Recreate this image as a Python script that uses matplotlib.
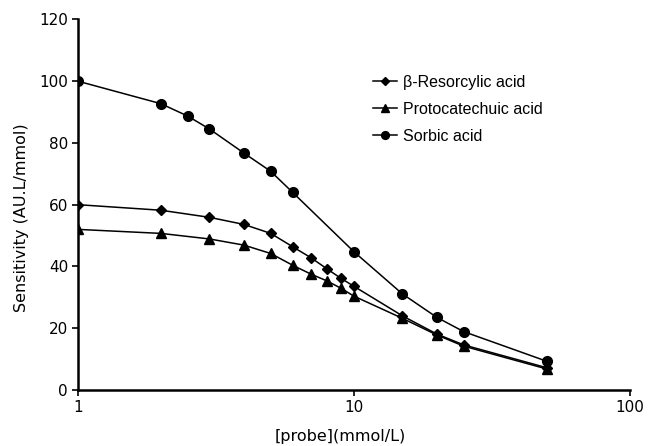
import matplotlib
matplotlib.use("Agg")
import matplotlib.pyplot as plt
from matplotlib.ticker import FixedLocator, FixedFormatter, NullLocator

# probe concentrations (mmol/L)
x_sorbic = [1, 2, 2.5, 3, 4, 5, 6, 10, 15, 20, 25, 50]
y_sorbic = [100, 92.7, 88.7, 84.5, 76.7, 70.8, 64.0, 44.8, 31.1, 23.5, 18.9, 9.3]

x_acids = [1, 2, 3, 4, 5, 6, 7, 8, 9, 10, 15, 20, 25, 50]
y_resorcylic = [60, 58.2, 55.9, 53.6, 50.7, 46.4, 42.8, 39.2, 36.1, 33.6, 24.0, 18.1, 14.6, 7.2]
y_protocat = [52, 50.7, 48.9, 46.9, 44.2, 40.4, 37.5, 35.3, 32.9, 30.4, 23.2, 17.8, 14.2, 6.8]

fig = plt.figure(figsize=(6.48, 4.46), dpi=100)
ax = fig.add_axes([0.120, 0.1256, 0.852, 0.831])

ax.plot(x_acids, y_resorcylic, color="black", lw=1.1, marker="D", ms=5.5, label="\u03b2-Resorcylic acid")
ax.plot(x_acids, y_protocat, color="black", lw=1.1, marker="^", ms=7, label="Protocatechuic acid")
ax.plot(x_sorbic, y_sorbic, color="black", lw=1.1, marker="o", ms=7, label="Sorbic acid")

ax.set_xscale("log")
ax.set_xlim(1, 100)
ax.set_ylim(0, 120)
ax.xaxis.set_major_locator(FixedLocator([1, 10, 100]))
ax.xaxis.set_major_formatter(FixedFormatter(["1", "10", "100"]))
ax.xaxis.set_minor_locator(NullLocator())
ax.set_yticks(range(0, 121, 20))

for s in ["top", "right"]:
    ax.spines[s].set_visible(False)
for s in ["left", "bottom"]:
    ax.spines[s].set_linewidth(1.8)
ax.tick_params(direction="out", length=4, width=1.2, labelsize=11, pad=3)

ax.set_xlabel("[probe](mmol/L)", fontsize=11.5)
ax.set_ylabel("Sensitivity (AU.L/mmol)", fontsize=11.5)
ax.xaxis.set_label_coords(0.475, -0.105)
ax.yaxis.set_label_coords(-0.089, 0.466)

leg = ax.legend(loc="upper left", bbox_to_anchor=(0.508, 0.889), frameon=False,
                prop={"family": "Liberation Sans", "size": 11.5},
                handlelength=1.5, labelspacing=0.75, handletextpad=0.4, markerscale=0.8)

fig.savefig("out.png", dpi=100)
